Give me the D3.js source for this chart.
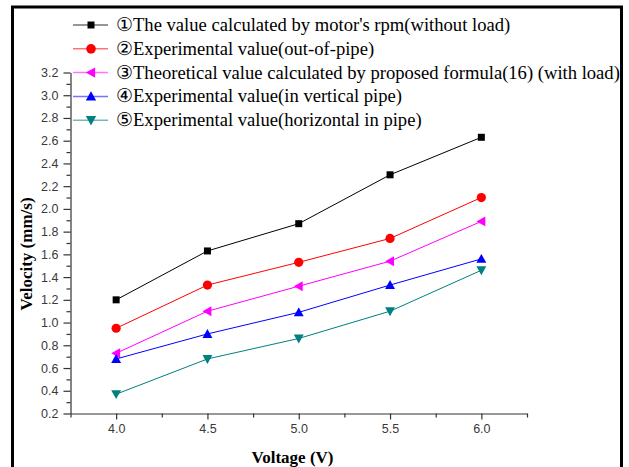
<!DOCTYPE html>
<html>
<head>
<meta charset="utf-8">
<script src="https://cdn.jsdelivr.net/npm/d3@7"></script>
<style>
	body { margin: 0; background: #fff; }
	svg { display: block; }
</style>
</head>
<body>
<svg id="chart" width="629" height="467"></svg>
<script>
// data
var voltage = [4.0, 4.5, 5.0, 5.5, 6.0];
var rpmValue = [1.20, 1.63, 1.87, 2.30, 2.63];
var outOfPipe = [0.95, 1.33, 1.53, 1.74, 2.10];
var theoretical = [0.73, 1.10, 1.32, 1.54, 1.89];
var verticalPipe = [0.68, 0.90, 1.09, 1.33, 1.56];
var horizontalPipe = [0.37, 0.68, 0.86, 1.10, 1.46];

var seriesNames = [
	"\u2460The value calculated by motor's rpm(without load)",
	"\u2461Experimental value(out-of-pipe)",
	"\u2462Theoretical value calculated by proposed formula(16) (with load)",
	"\u2463Experimental value(in vertical pipe)",
	"\u2464Experimental value(horizontal in pipe)"
];
var seriesColors = ["#000000", "#ff0000", "#ff00ff", "#0000ff", "#008080"];
var seriesMarkers = ["square", "circle", "left", "up", "down"];
var seriesValues = [rpmValue, outOfPipe, theoretical, verticalPipe, horizontalPipe];

var xTicks = [4.0, 4.5, 5.0, 5.5, 6.0];
var yTicks = [0.2, 0.4, 0.6, 0.8, 1.0, 1.2, 1.4, 1.6, 1.8, 2.0, 2.2, 2.4, 2.6, 2.8, 3.0, 3.2];

var svg = d3.select("#chart");

// outer frame
svg.append("rect")
	.attr("x", 12.5)
	.attr("y", 7)
	.attr("width", 609)
	.attr("height", 480)
	.attr("fill", "#fff")
	.attr("stroke", "#000")
	.attr("stroke-width", 3);

var x = d3.scaleLinear().domain([3.75, 6.25]).range([70.5, 527]);
var y = d3.scaleLinear().domain([0.2, 3.2]).range([413.5, 72.5]);

function marker(type, s) {
	if (type === "square") return "M" + (-s) + "," + (-s) + "h" + (2 * s) + "v" + (2 * s) + "h" + (-2 * s) + "Z";
	if (type === "circle") return d3.symbol().type(d3.symbolCircle).size(Math.PI * s * s * 1.15)();
	var h = s * 1.15;
	if (type === "up") return "M0," + (-h) + "L" + h + "," + (h * 0.8) + "L" + (-h) + "," + (h * 0.8) + "Z";
	if (type === "down") return "M0," + h + "L" + h + "," + (-h * 0.8) + "L" + (-h) + "," + (-h * 0.8) + "Z";
	return "M" + (-h) + ",0L" + (h * 0.8) + "," + (-h) + "L" + (h * 0.8) + "," + h + "Z";
}

// axes
var axisColor = "#333";
var yAxis = svg.append("g")
	.attr("transform", "translate(" + x.range()[0] + ",0)")
	.call(d3.axisLeft(y).tickValues(yTicks).tickSize(7).tickSizeOuter(0)
		.tickFormat(d3.format(".1f")));
var yMinor = svg.append("g")
	.attr("transform", "translate(" + x.range()[0] + ",0)")
	.call(d3.axisLeft(y).tickValues(d3.range(0.3, 3.2, 0.2)).tickSize(4).tickSizeOuter(0).tickFormat(""));

var xAxis = svg.append("g")
	.attr("transform", "translate(0," + y.range()[0] + ")")
	.call(d3.axisBottom(x).tickValues(xTicks).tickSize(6).tickSizeOuter(0)
		.tickFormat(d3.format(".1f")));
var xMinor = svg.append("g")
	.attr("transform", "translate(0," + y.range()[0] + ")")
	.call(d3.axisBottom(x).tickValues([3.75, 4.25, 4.75, 5.25, 5.75, 6.25]).tickSize(4).tickSizeOuter(0).tickFormat(""));

svg.selectAll(".domain, .tick line").attr("stroke", axisColor).attr("stroke-width", 1.2);
yMinor.select(".domain").remove();
xMinor.select(".domain").remove();
svg.selectAll(".tick text")
	.attr("font-family", "'Liberation Sans', Arial, sans-serif")
	.attr("font-size", 12.5)
	.attr("fill", "#3a3a3a");
yAxis.selectAll(".tick text").attr("x", -12);
xAxis.selectAll(".tick text").attr("y", 11);

// axis titles
svg.append("text")
	.attr("x", 292.5)
	.attr("y", 463)
	.attr("text-anchor", "middle")
	.attr("font-family", "'Liberation Serif', 'Times New Roman', serif")
	.attr("font-weight", "bold")
	.attr("font-size", 17)
	.text("Voltage (V)");

svg.append("text")
	.attr("transform", "translate(32,254) rotate(-90)")
	.attr("text-anchor", "middle")
	.attr("font-family", "'Liberation Serif', 'Times New Roman', serif")
	.attr("font-weight", "bold")
	.attr("font-size", 17)
	.text("Velocity (mm/s)");

// series
var line = d3.line()
	.x(function (d, i) { return x(voltage[i]); })
	.y(function (d) { return y(d); });

seriesValues.forEach(function (vals, k) {
	svg.append("path")
		.datum(vals)
		.attr("fill", "none")
		.attr("stroke", seriesColors[k])
		.attr("stroke-width", 1)
		.attr("d", line);

	svg.append("g")
		.selectAll("path")
		.data(vals)
		.enter().append("path")
		.attr("transform", function (d, i) { return "translate(" + x(voltage[i]) + "," + y(d) + ")"; })
		.attr("d", marker(seriesMarkers[k], seriesMarkers[k] === "square" ? 3.5 : 4.3))
		.attr("fill", seriesColors[k]);
});

// legend
var legend = svg.append("g");
seriesNames.forEach(function (name, k) {
	var ly = 25 + k * 23.8;
	legend.append("line")
		.attr("x1", 73).attr("x2", 108)
		.attr("y1", ly).attr("y2", ly)
		.attr("stroke", seriesColors[k])
		.attr("stroke-opacity", 0.55)
		.attr("stroke-width", 1.5);
	legend.append("path")
		.attr("transform", "translate(91," + ly + ")")
		.attr("d", marker(seriesMarkers[k], seriesMarkers[k] === "square" ? 3.5 : 4.5))
		.attr("fill", seriesColors[k]);
	legend.append("text")
		.attr("x", 116)
		.attr("y", ly + 6)
		.attr("font-family", "'Liberation Serif', 'Times New Roman', serif")
		.attr("font-size", 18.6)
		.attr("fill", "#000")
		.text(name);
});
</script>
</body>
</html>
